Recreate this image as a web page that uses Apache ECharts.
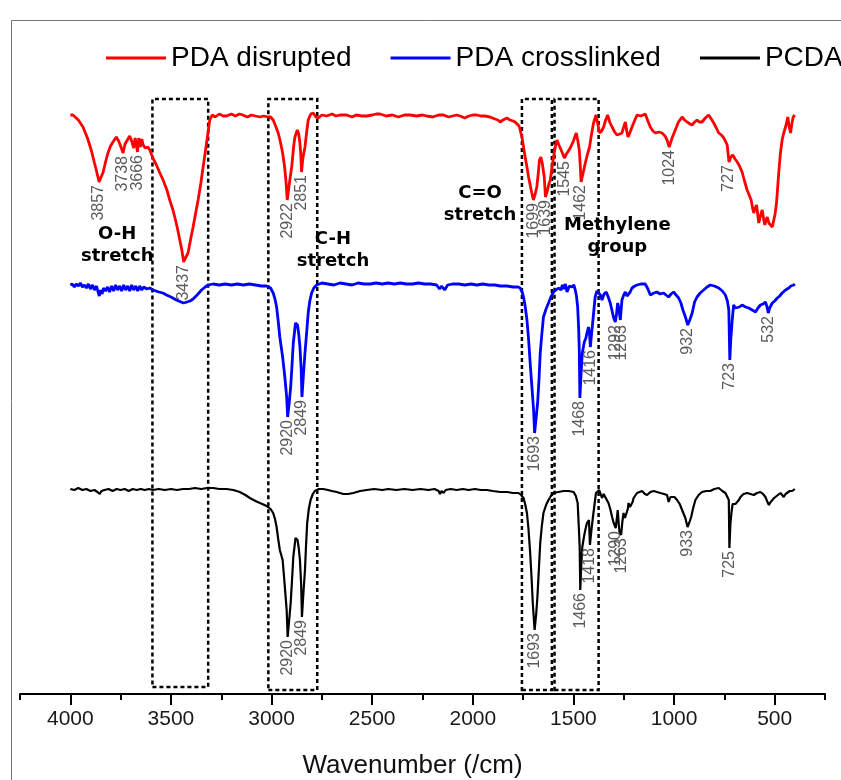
<!DOCTYPE html>
<html>
<head>
<meta charset="utf-8">
<script src="https://cdn.jsdelivr.net/npm/echarts@6/dist/echarts.min.js"></script>
<style>html,body{margin:0;padding:0;background:#fff;}#chart{width:841px;height:780px;}</style>
</head>
<body>
<div id="chart"></div>
<script>
// ---- data (wavenumber cm^-1, offset transmittance in arbitrary units) ----
const seriesNames = ['PDA disrupted', 'PDA crosslinked', 'PCDA'];
const majorTicks = [4000, 3500, 3000, 2500, 2000, 1500, 1000, 500];
const minorTicks = [4250, 3750, 3250, 2750, 2250, 1750, 1250, 750, 250];

const pdaDisrupted = [[4000,579],[3987,579],[3960,574],[3937,567],[3915,556],[3896,544],[3880,531],[3871,524],[3857,512],[3845,518],[3838,521],[3825,532],[3813,541],[3800,548],[3788,552],[3771,557],[3760,553],[3750,548],[3738,541],[3728,550],[3721,552],[3705,558],[3695,553],[3685,546],[3678,556],[3672,550],[3666,542],[3660,556],[3652,547],[3645,555],[3638,549],[3628,546],[3615,547],[3605,544],[3590,536],[3572,529],[3555,521],[3539,514],[3520,504],[3506,494],[3490,484],[3481,477],[3468,466],[3456,454],[3445,443],[3437,432],[3428,436],[3415,441],[3400,457],[3390,467],[3378,480],[3365,494],[3352,510],[3340,527],[3323,551],[3307,574],[3295,579],[3280,577],[3260,580],[3240,578],[3224,578],[3200,580],[3180,578],[3160,580],[3143,579],[3120,577],[3100,579],[3080,578],[3058,577],[3040,578],[3017,577],[3005,577],[2992,574],[2980,568],[2967,561],[2955,551],[2945,541],[2935,527],[2929,514],[2922,494],[2912,510],[2900,527],[2890,548],[2884,557],[2872,564],[2865,560],[2859,551],[2855,540],[2851,522],[2845,535],[2834,547],[2825,563],[2818,574],[2805,580],[2793,581],[2780,577],[2768,576],[2750,579],[2726,578],[2700,580],[2680,578],[2660,579],[2627,579],[2600,577],[2580,579],[2550,578],[2527,578],[2500,579],[2480,580],[2461,580],[2430,578],[2400,579],[2370,577],[2340,579],[2312,579],[2280,578],[2250,579],[2229,578],[2200,577],[2170,579],[2146,579],[2120,577],[2100,578],[2080,579],[2063,578],[2040,576],[2020,578],[2000,579],[1980,579],[1960,578],[1940,578],[1914,577],[1890,575],[1875,574],[1864,572],[1850,574],[1831,576],[1815,574],[1800,573],[1790,572],[1781,571],[1770,568],[1765,567],[1756,557],[1748,547],[1740,537],[1731,527],[1723,517],[1715,509],[1707,501],[1699,494],[1690,500],[1682,507],[1675,520],[1669,534],[1662,537],[1655,531],[1645,517],[1639,497],[1630,503],[1622,510],[1615,514],[1607,526],[1599,537],[1590,547],[1582,554],[1570,548],[1557,542],[1545,536],[1535,540],[1525,543],[1516,546],[1500,553],[1486,561],[1478,553],[1471,544],[1466,528],[1462,512],[1453,520],[1441,531],[1430,540],[1420,547],[1410,560],[1400,571],[1388,579],[1379,570],[1370,561],[1360,563],[1350,567],[1340,574],[1330,579],[1320,572],[1308,567],[1295,562],[1284,559],[1270,560],[1259,561],[1250,567],[1242,572],[1235,563],[1229,557],[1220,561],[1209,567],[1195,574],[1184,579],[1165,578],[1143,580],[1130,573],[1118,567],[1105,563],[1093,561],[1075,562],[1060,561],[1045,558],[1035,554],[1024,547],[1010,556],[994,564],[978,572],[960,577],[948,574],[935,572],[920,570],[910,569],[898,572],[886,574],[875,572],[861,572],[845,576],[828,579],[815,575],[803,571],[790,566],[778,561],[765,559],[753,556],[745,553],[736,549],[727,532],[718,537],[708,539],[697,535],[686,532],[675,528],[662,522],[650,513],[637,504],[625,498],[617,494],[610,486],[604,481],[597,486],[590,489],[584,479],[579,471],[570,479],[562,484],[555,475],[549,469],[543,474],[537,477],[529,471],[521,469],[512,467],[505,467],[498,480],[491,491],[485,507],[480,521],[472,540],[463,554],[455,561],[446,567],[435,577],[428,567],[421,561],[415,570],[408,577],[403,575],[400,579]];

const pdaCrosslinked = [[4000,409],[3990,410],[3980,407],[3970,410],[3960,408],[3950,411],[3940,407],[3930,409],[3920,406],[3910,410],[3900,405],[3890,409],[3880,404],[3870,408],[3862,402],[3856,398],[3850,404],[3842,400],[3835,406],[3825,403],[3815,407],[3805,402],[3795,408],[3785,403],[3775,409],[3765,404],[3755,408],[3745,403],[3735,409],[3725,404],[3715,408],[3705,403],[3695,409],[3685,404],[3675,408],[3665,403],[3655,408],[3645,404],[3635,407],[3620,405],[3605,406],[3589,404],[3560,402],[3540,401],[3522,399],[3500,397],[3473,394],[3450,392],[3437,391],[3420,392],[3405,393],[3390,395],[3370,399],[3348,404],[3330,407],[3315,409],[3290,410],[3260,409],[3230,410],[3200,409],[3170,410],[3140,409],[3110,410],[3080,409],[3050,408],[3025,408],[3005,406],[2992,401],[2983,395],[2975,387],[2967,373],[2959,357],[2952,347],[2945,337],[2934,317],[2925,297],[2920,277],[2912,292],[2905,307],[2898,330],[2892,351],[2881,371],[2871,369],[2865,360],[2859,347],[2853,325],[2849,297],[2842,318],[2834,341],[2825,363],[2818,381],[2810,393],[2801,401],[2790,406],[2776,409],[2750,411],[2720,410],[2690,409],[2660,411],[2630,410],[2600,409],[2570,411],[2540,410],[2510,410],[2480,411],[2450,410],[2420,411],[2390,410],[2360,411],[2330,410],[2300,410],[2270,411],[2240,410],[2210,410],[2180,409],[2165,405],[2155,408],[2140,404],[2125,409],[2100,410],[2070,410],[2040,409],[2010,410],[1980,409],[1950,410],[1920,409],[1890,409],[1864,408],[1830,408],[1800,407],[1775,407],[1765,406],[1755,402],[1748,397],[1740,388],[1731,374],[1723,355],[1715,331],[1706,306],[1698,284],[1693,261],[1686,275],[1678,291],[1671,315],[1665,341],[1657,360],[1649,377],[1636,385],[1624,391],[1612,397],[1599,402],[1587,404],[1574,406],[1562,404],[1555,409],[1549,405],[1540,410],[1532,402],[1520,408],[1508,407],[1498,409],[1491,404],[1485,398],[1479,387],[1474,365],[1471,344],[1468,296],[1462,320],[1456,341],[1446,352],[1438,356],[1433,361],[1425,367],[1420,360],[1416,347],[1410,360],[1403,374],[1397,387],[1392,397],[1384,403],[1375,402],[1366,399],[1358,394],[1348,400],[1337,402],[1327,397],[1317,391],[1308,383],[1300,376],[1292,372],[1286,380],[1280,391],[1274,385],[1267,374],[1263,372],[1259,394],[1250,399],[1242,402],[1234,398],[1226,396],[1218,402],[1209,406],[1195,408],[1184,409],[1165,410],[1143,410],[1130,405],[1118,399],[1100,401],[1085,402],[1070,400],[1052,401],[1040,399],[1027,397],[1015,400],[1002,402],[990,399],[977,396],[966,391],[956,384],[947,379],[939,374],[932,369],[922,374],[910,381],[898,392],[886,397],[870,401],[853,404],[836,407],[820,409],[800,408],[778,406],[760,403],[745,399],[735,393],[728,384],[723,334],[718,355],[711,374],[704,389],[696,386],[687,384],[675,387],[662,389],[645,387],[629,386],[612,384],[595,382],[583,386],[571,389],[558,390],[546,392],[538,387],[532,381],[525,386],[512,391],[500,393],[487,396],[475,398],[463,401],[455,403],[446,404],[438,406],[430,406],[420,408],[413,407],[405,409],[400,410]];

const pcda = [[4000,205],[3980,204],[3960,206],[3940,204],[3920,205],[3900,203],[3880,204],[3865,202],[3854,200],[3845,203],[3830,204],[3810,205],[3790,203],[3770,205],[3750,204],[3730,205],[3710,203],[3690,205],[3670,204],[3650,205],[3630,204],[3610,205],[3590,204],[3560,205],[3530,204],[3500,205],[3470,204],[3440,205],[3410,205],[3380,206],[3350,205],[3320,206],[3290,206],[3260,205],[3224,205],[3190,204],[3158,202],[3130,199],[3108,196],[3080,193],[3058,191],[3035,189],[3017,187],[3005,185],[2992,181],[2983,175],[2975,167],[2967,155],[2959,144],[2952,139],[2945,134],[2940,122],[2934,107],[2925,84],[2920,57],[2912,75],[2905,91],[2898,115],[2892,137],[2881,156],[2871,154],[2865,146],[2859,134],[2853,110],[2849,77],[2842,100],[2834,124],[2829,147],[2823,171],[2815,185],[2806,194],[2795,200],[2785,203],[2765,205],[2743,205],[2720,204],[2700,203],[2677,202],[2660,201],[2644,200],[2620,200],[2594,201],[2560,203],[2527,204],[2490,205],[2450,204],[2420,205],[2380,204],[2340,205],[2300,204],[2260,205],[2220,204],[2190,205],[2170,203],[2163,200],[2155,203],[2145,201],[2135,204],[2110,205],[2080,204],[2050,205],[2020,204],[1990,205],[1960,204],[1930,204],[1900,203],[1864,202],[1830,202],[1800,201],[1773,201],[1760,199],[1748,196],[1740,190],[1731,181],[1723,164],[1715,141],[1708,116],[1702,91],[1693,64],[1685,80],[1679,97],[1672,124],[1665,151],[1657,168],[1649,181],[1636,189],[1624,194],[1612,198],[1599,201],[1575,202],[1549,203],[1525,203],[1499,202],[1488,198],[1479,191],[1474,170],[1469,147],[1466,104],[1462,125],[1456,147],[1446,159],[1440,165],[1433,171],[1423,174],[1418,149],[1410,165],[1403,177],[1395,190],[1388,201],[1372,204],[1358,196],[1350,200],[1342,199],[1334,194],[1326,191],[1317,185],[1308,177],[1300,171],[1290,166],[1284,176],[1280,184],[1275,170],[1271,162],[1263,159],[1257,172],[1251,181],[1244,176],[1237,174],[1230,185],[1226,191],[1219,187],[1212,186],[1206,192],[1201,196],[1184,201],[1159,203],[1145,200],[1134,199],[1118,202],[1101,203],[1085,202],[1068,201],[1050,200],[1035,199],[1027,192],[1018,197],[1010,199],[998,197],[985,194],[972,190],[960,184],[952,180],[944,176],[933,167],[925,171],[915,177],[905,186],[894,194],[878,199],[861,202],[840,203],[820,203],[800,205],[778,206],[760,203],[745,201],[735,197],[728,194],[725,146],[720,170],[715,181],[709,190],[704,192],[695,190],[687,191],[678,194],[670,197],[655,200],[637,201],[620,200],[604,199],[588,201],[571,202],[558,200],[546,197],[538,193],[529,189],[520,192],[512,194],[503,196],[496,196],[484,199],[471,201],[463,199],[455,197],[446,200],[438,202],[425,203],[413,203],[405,204],[400,205]];

// peak labels [wavenumber, value at peak]
const redPeaks = [[3857,512],[3738,541],[3666,542],[3437,432],[2922,494],[2851,522],[1699,494],[1639,497],[1545,536],[1462,512],[1024,547],[727,532]];
const bluePeaks = [[2920,277],[2849,297],[1693,261],[1468,296],[1416,347],[1292,372],[1263,372],[932,369],[723,334],[532,381]];
const blackPeaks = [[2920,57],[2849,77],[1693,64],[1466,104],[1418,149],[1290,166],[1263,159],[933,167],[725,146]];

// highlighted regions [from wn, to wn, bottom value, top value]
const regions = [[3592,3315,7,595],[3016,2773,4,595],[1756,1607,4,595],[1594,1375,4,595]];
// region annotations [text, wn, value]
const annotations = [['O-H\nstretch',3767,449],['C-H\nstretch',2695,444],['C=O\nstretch',1964,490],['Methylene\ngroup',1282,458]];

const colors = ['#ff0000', '#0000ff', '#000000'];

const chart = echarts.init(document.getElementById('chart'), null, {renderer: 'canvas'});
const font = 'Liberation Sans, Arial, sans-serif';

chart.setOption({
  animation: false,
  backgroundColor: '#fff',
  legend: {
    left: 106, top: 44, width: 1200, padding: 0,
    icon: 'rect', itemWidth: 60, itemHeight: 3, itemGap: 39,
    textStyle: {fontFamily: font, fontSize: 28, color: '#000'},
    data: seriesNames
  },
  grid: {left: 20, right: 16, top: 94, bottom: 86, containLabel: false, outerBoundsMode: 'none'},
  xAxis: [{
    type: 'value', min: 250, max: 4250, inverse: true,
    name: 'Wavenumber (/cm)', nameLocation: 'middle', nameGap: 59,
    nameTextStyle: {fontFamily: font, fontSize: 26, color: '#111', padding: [0, 20, 0, 0]},
    axisLine: {show: true, lineStyle: {color: '#000', width: 2}},
    axisTick: {show: true, inside: false, length: 11, lineStyle: {color: '#000', width: 2}, customValues: majorTicks},
    axisLabel: {fontFamily: font, fontSize: 21, color: '#1a1a1a', margin: 15, customValues: majorTicks,
      formatter: v => String(v)},
    splitLine: {show: false}
  }, {
    type: 'value', min: 250, max: 4250, inverse: true, position: 'bottom', gridIndex: 0,
    axisLine: {show: false},
    axisTick: {show: true, inside: false, length: 6, lineStyle: {color: '#000', width: 2}, customValues: minorTicks},
    axisLabel: {show: false},
    splitLine: {show: false}
  }],
  yAxis: {type: 'value', min: 0, max: 600, show: false},
  series: [
    {name: seriesNames[0], type: 'line', data: pdaDisrupted, showSymbol: false, symbol: 'none', color: colors[0], lineStyle: {width: 2.8}, z: 3},
    {name: seriesNames[1], type: 'line', data: pdaCrosslinked, showSymbol: false, symbol: 'none', color: colors[1], lineStyle: {width: 2.8}, z: 3},
    {name: seriesNames[2], type: 'line', data: pcda, showSymbol: false, symbol: 'none', color: colors[2], lineStyle: {width: 2.2}, z: 3,
     markArea: {silent: true,
       itemStyle: {color: 'rgba(0,0,0,0)', borderColor: '#000', borderWidth: 2.5, borderType: [4, 3]},
       data: regions.map(r => [{xAxis: r[0], yAxis: r[2]}, {xAxis: r[1], yAxis: r[3]}])}
    }
  ]
});

const g = [];
g.push({type: 'rect', shape: {x: 11.5, y: 20.5, width: 900, height: 900}, style: {fill: 'none', stroke: '#777', lineWidth: 1}, silent: true, z: 0});
function addPeaks(peaks, idx) {
  peaks.forEach(p => {
    const pt = chart.convertToPixel({seriesIndex: idx}, p);
    g.push({type: 'text', x: pt[0], y: pt[1] + 3, rotation: Math.PI / 2, z: 10,
      style: {text: String(p[0]), fill: '#5a5a5a', font: '16px ' + font,
        align: 'right', verticalAlign: 'middle', textAlign: 'right', textVerticalAlign: 'middle'}});
  });
}
addPeaks(redPeaks, 0);
addPeaks(bluePeaks, 1);
addPeaks(blackPeaks, 2);
annotations.forEach(a => {
  const pt = chart.convertToPixel({seriesIndex: 0}, [a[1], a[2]]);
  g.push({type: 'text', x: pt[0], y: pt[1], z: 10,
    style: {text: a[0], fill: '#000', font: 'bold 18px DejaVu Sans, sans-serif', lineHeight: 22,
      align: 'center', verticalAlign: 'middle', textAlign: 'center', textVerticalAlign: 'middle'}});
});
chart.setOption({graphic: g});
</script>
</body>
</html>
